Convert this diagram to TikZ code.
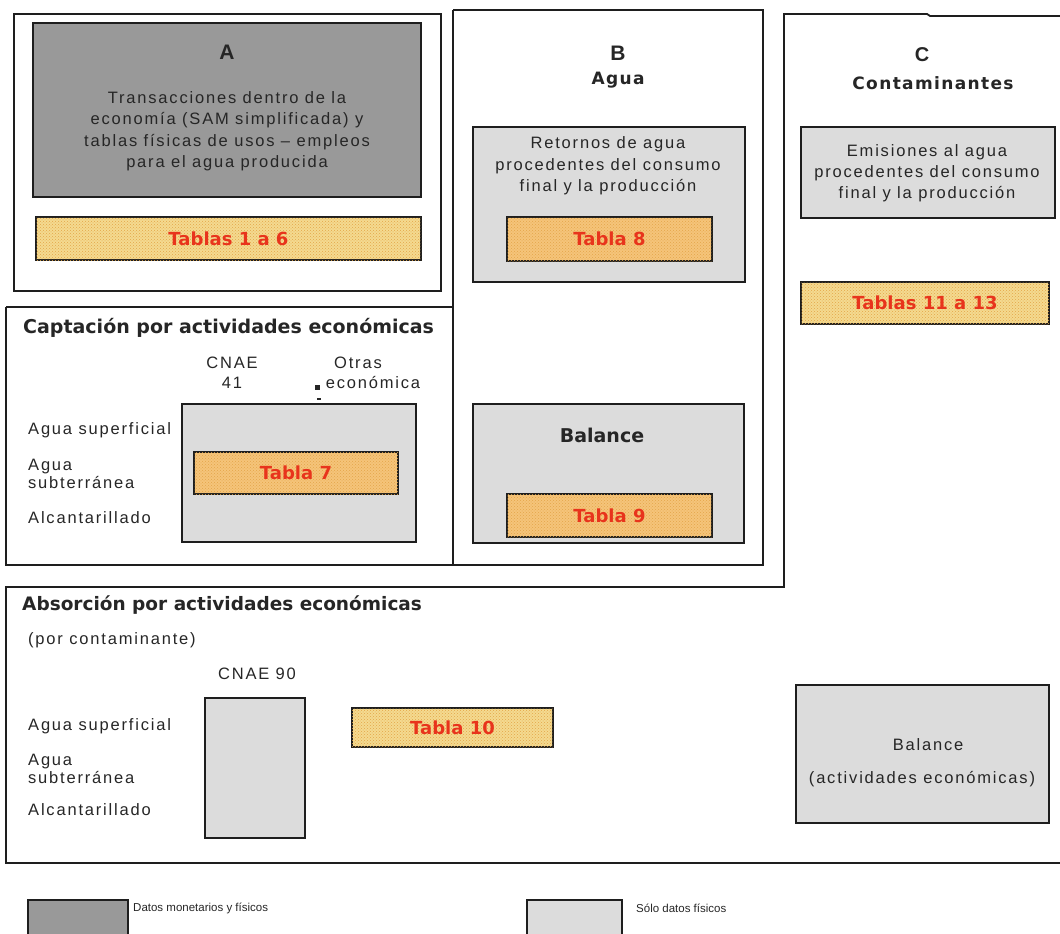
\documentclass[tikz,border=0pt]{standalone}
\usepackage{fontspec}
\setmainfont{Liberation Sans}[LetterSpace=11]
\newfontfamily\plainfont{Liberation Sans}
\newfontfamily\headfont{DejaVu Sans}
\newfontfamily\spacedhead{DejaVu Sans}[LetterSpace=8]
\usetikzlibrary{fit,patterns}

\definecolor{frame}{HTML}{1E1E1E}
\definecolor{darkfill}{HTML}{999999}
\definecolor{lightfill}{HTML}{DCDCDC}
\definecolor{tabY}{HTML}{F4DA90}
\definecolor{tabO}{HTML}{F5C47A}
\definecolor{tabdot}{HTML}{E3A548}
\definecolor{tabtxt}{HTML}{E8341C}
\definecolor{ink}{HTML}{262626}

\tikzset{
  frameline/.style={draw=frame, line width=1.8pt},
  panel/.style={draw=frame, line width=1.6pt, inner sep=0pt},
  darkpanel/.style={panel, fill=darkfill},
  lightpanel/.style={panel, fill=lightfill},
  tabbox/.style={panel, postaction={pattern=crosshatch dots, pattern color=tabdot}},
  tabyellow/.style={tabbox, fill=tabY},
  taborange/.style={tabbox, fill=tabO},
  tablabel/.style={text=tabtxt, inner sep=0pt, font=\headfont\bfseries\fontsize{18}{20}\selectfont},
  body/.style={text=ink, font=\fontsize{16.5}{21.5}\selectfont, align=center, inner sep=0pt},
  rowlabel/.style={text=ink, font=\fontsize{16.5}{18}\selectfont, align=left, anchor=west, inner sep=0pt},
  heading/.style={text=ink, font=\headfont\bfseries\fontsize{19}{22}\selectfont, anchor=west, inner sep=0pt},
  letter/.style={text=ink, font=\bfseries\fontsize{21}{24}\selectfont, inner sep=0pt},
  legendtext/.style={text=ink, font=\plainfont\fontsize{11.5}{13}\selectfont, anchor=west, inner sep=0pt}
}

\begin{document}
\begin{tikzpicture}[x=1pt, y=-1pt]
\useasboundingbox (0,0) rectangle (1060,934);
\clip (0,0) rectangle (1060,934);

% outer frames
\draw[frameline] (14,14) rectangle (441,291);
\draw[frameline] (6,307) -- (453,307);
\draw[frameline, line join=miter] (453,10) -- (763,10) -- (763,565) -- (6,565) -- (6,307);
\draw[frameline] (453,10) -- (453,565);
\draw[frameline, line join=miter] (1062,16) -- (930,16) -- (927,14) -- (784,14) -- (784,587)
  -- (6,587) -- (6,863) -- (1062,863);

% block A
\node[darkpanel, fit={(33,23) (421,197)}] (Abox) {};
\node[letter] (Atitle) at (227,52) {A};
\node[body] (Atext) at (227,131) {Transacciones dentro de la\\economía (SAM simplificada) y\\tablas físicas de usos – empleos\\para el agua producida};
\node[tabyellow, fit={(36,217) (421,260)}] (T16) {};
\node[tablabel] at (T16.center) {Tablas 1 a 6};

% block B
\node[letter] (Btitle) at (618,53) {B};
\node[text=ink, font=\spacedhead\bfseries\fontsize{17}{20}\selectfont, inner sep=0pt] (Bsub) at (618,80) {Agua};
\node[lightpanel, fit={(473,127) (745,282)}] (Ret) {};
\node[body] (Rettext) at (608,166) {Retornos de agua\\procedentes del consumo\\final y la producción};
\node[taborange, fit={(507,217) (712,261)}] (T8) {};
\node[tablabel] at (T8.center) {Tabla 8};
\node[lightpanel, fit={(473,404) (744,543)}] (BalB) {};
\node[text=ink, font=\headfont\bfseries\fontsize{19}{22}\selectfont, inner sep=0pt] (BalBtext) at (602,435) {Balance};
\node[taborange, fit={(507,494) (712,537)}] (T9) {};
\node[tablabel] at (T9.center) {Tabla 9};

% block C
\node[letter, font=\bfseries\fontsize{20}{24}\selectfont] (Ctitle) at (922,55) {C};
\node[text=ink, font=\spacedhead\bfseries\fontsize{17}{20}\selectfont, inner sep=0pt] (Csub) at (933,83) {Contaminantes};
\node[lightpanel, fit={(801,127) (1055,218)}] (Emi) {};
\node[body, font=\fontsize{16.5}{21}\selectfont] (Emitext) at (927,173) {Emisiones al agua\\procedentes del consumo\\final y la producción};
\node[tabyellow, fit={(801,282) (1049,324)}] (T1113) {};
\node[tablabel] at (T1113.center) {Tablas 11 a 13};

% captación
\node[heading] (Cap) at (23,328) {Captación por actividades económicas};
\node[body, font=\fontsize{16.5}{20}\selectfont] (Cnae41) at (232,373) {CNAE\\41};
\node[body] (Otras) at (358,363) {Otras};
\node[body] (Econ) at (373,383) {económica};
\fill[ink] (315,385) rectangle (320,390);
\fill[ink] (317,398) rectangle (321,400);
\node[lightpanel, fit={(182,404) (416,542)}] (CapBox) {};
\node[taborange, fit={(194,452) (398,494)}] (T7) {};
\node[tablabel] at (T7.center) {Tabla 7};
\node[rowlabel] (CapR1) at (28,430) {Agua superficial};
\node[rowlabel] (CapR2) at (28,474) {Agua\\subterránea};
\node[rowlabel] (CapR3) at (28,518) {Alcantarillado};

% absorción
\node[heading, font=\headfont\bfseries\fontsize{18.5}{22}\selectfont] (Abs) at (22,605) {Absorción por actividades económicas};
\node[rowlabel] (Abssub) at (28,640) {(por contaminante)};
\node[body] (Cnae90) at (257,674) {CNAE 90};
\node[lightpanel, fit={(205,698) (305,838)}] (AbsBox) {};
\node[tabyellow, fit={(352,708) (553,747)}] (T10) {};
\node[tablabel] at (T10.center) {Tabla 10};
\node[rowlabel] (AbsR1) at (28,726) {Agua superficial};
\node[rowlabel] (AbsR2) at (28,769) {Agua\\subterránea};
\node[rowlabel] (AbsR3) at (28,810) {Alcantarillado};
\node[lightpanel, fit={(796,685) (1049,823)}] (BalE) {};
\node[body] (BalEtext) at (928,745) {Balance};
\node[body] (BalEsub) at (922,779) {(actividades económicas)};

% legend
\node[darkpanel, fit={(28,900) (128,945)}] (LegDark) {};
\node[legendtext] (LegDarkText) at (133,908) {Datos monetarios y físicos};
\node[lightpanel, fit={(527,900) (622,945)}] (LegLight) {};
\node[legendtext] (LegLightText) at (636,908) {Sólo datos físicos};
\end{tikzpicture}
\end{document}
